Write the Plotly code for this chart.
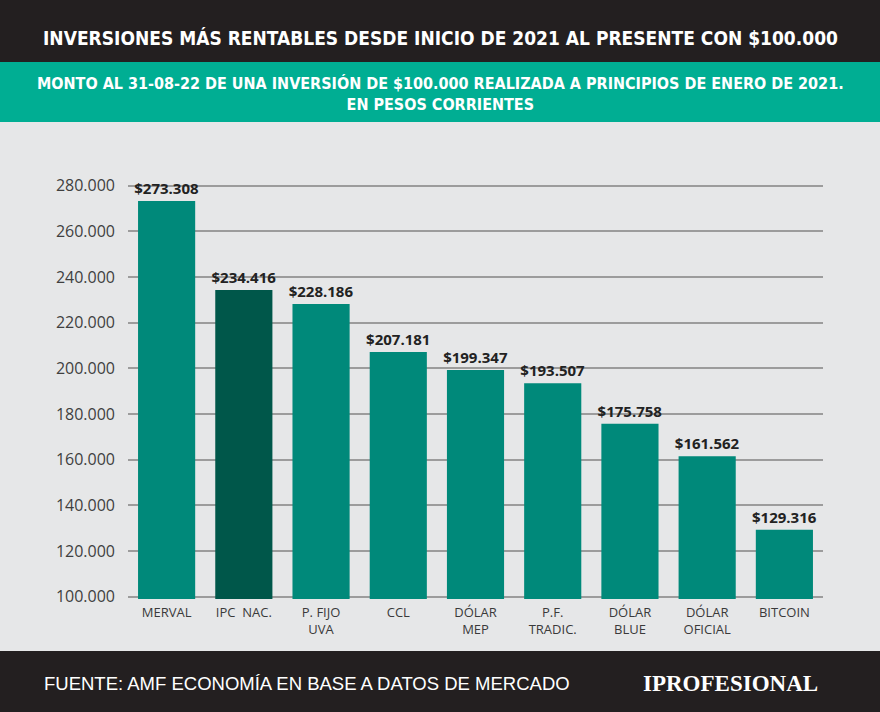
import plotly.graph_objects as go

categories = ["MERVAL", "IPC  NAC.", "P. FIJO<br>UVA", "CCL", "DÓLAR<br>MEP",
              "P.F.<br>TRADIC.", "DÓLAR<br>BLUE", "DÓLAR<br>OFICIAL", "BITCOIN"]
values = [273308, 234416, 228186, 207181, 199347, 193507, 175758, 161562, 129316]
bar_colors = ["#00897A", "#00574A", "#00897A", "#00897A", "#00897A",
              "#00897A", "#00897A", "#00897A", "#00897A"]
y_ticks = [100000, 120000, 140000, 160000, 180000, 200000, 220000, 240000, 260000, 280000]

title = "INVERSIONES MÁS RENTABLES DESDE INICIO DE 2021 AL PRESENTE CON $100.000"
subtitle = "MONTO AL 31-08-22 DE UNA INVERSIÓN DE $100.000 REALIZADA A PRINCIPIOS DE ENERO DE 2021.<br>EN PESOS CORRIENTES"
source = "FUENTE: AMF ECONOMÍA EN BASE A DATOS DE MERCADO"
logo = "IPROFESIONAL"

W, H = 880, 712
L, R, T, B = 128, 57, 163, 113
PW, PH = W - L - R, H - T - B

def xp(px):
    return (px - L) / PW

def yp(py):
    return (H - B - py) / PH

fig = go.Figure(go.Bar(
    x=categories, y=values,
    marker=dict(color=bar_colors, line=dict(width=0)),
    texttemplate="<b>$%{y:,.0f}</b>", textposition="outside",
    constraintext="none",
    textfont=dict(family="Open Sans", size=15, color="#222222"),
    cliponaxis=False,
))

condensed = "DejaVu Sans Condensed, sans-serif"

fig.update_layout(
    width=W, height=H,
    margin=dict(l=L, r=R, t=T, b=B, pad=0),
    paper_bgcolor="#E6E7E8", plot_bgcolor="#E6E7E8",
    separators=",.",
    bargap=0.26,
    showlegend=False,
    font=dict(family="Open Sans", color="#3a3a3a"),
    xaxis=dict(showgrid=False, showline=False, zeroline=False,
               tickfont=dict(family="Open Sans", size=13, color="#3a3a3a"),
               ticks="", ticklabelstandoff=4),
    yaxis=dict(range=[99000, 290000], tickvals=y_ticks, tickformat=",.0f",
               showgrid=True, gridcolor="#9c9c9c", gridwidth=1.5,
               zeroline=False, showline=False, ticks="",
               tickfont=dict(family="Open Sans", size=16, color="#3f3f3f"),
               ticklabelstandoff=12),
    shapes=[
        dict(type="rect", xref="paper", yref="paper", x0=xp(0), x1=xp(W),
             y0=yp(62), y1=yp(0), fillcolor="#231F20", line=dict(width=0), layer="below"),
        dict(type="rect", xref="paper", yref="paper", x0=xp(0), x1=xp(W),
             y0=yp(122), y1=yp(62), fillcolor="#00AE93", line=dict(width=0), layer="below"),
        dict(type="rect", xref="paper", yref="paper", x0=xp(0), x1=xp(W),
             y0=yp(H), y1=yp(651), fillcolor="#231F20", line=dict(width=0), layer="below"),
    ],
    annotations=[
        dict(text="<b>" + title + "</b>", xref="paper", yref="paper",
             x=xp(440), y=yp(38), xanchor="center", yanchor="middle", showarrow=False,
             font=dict(family=condensed, size=19, color="white")),
        dict(text="<b>" + subtitle.replace("<br>", "</b><br><b>") + "</b>", xref="paper", yref="paper",
             x=xp(440), y=yp(94), xanchor="center", yanchor="middle", showarrow=False,
             font=dict(family=condensed, size=16, color="white")),
        dict(text=source, xref="paper", yref="paper",
             x=xp(42), y=yp(683), xanchor="left", yanchor="middle", showarrow=False,
             font=dict(family="Liberation Sans", size=18.5, color="white")),
        dict(text="<b>" + logo + "</b>", xref="paper", yref="paper",
             x=xp(820), y=yp(683), xanchor="right", yanchor="middle", showarrow=False,
             font=dict(family="Liberation Serif", size=23, color="white")),
    ],
)

fig.write_html("out.html")
